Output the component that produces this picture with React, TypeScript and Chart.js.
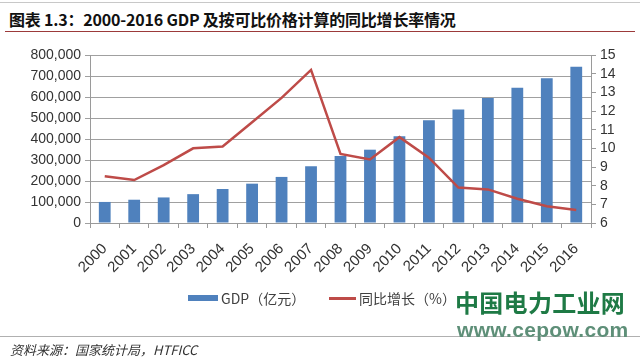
import React, { useEffect, useRef } from "react";
import { Chart, registerables } from "chart.js";

Chart.register(...registerables);

const years = ["2000","2001","2002","2003","2004","2005","2006","2007","2008","2009","2010","2011","2012","2013","2014","2015","2016"];
const gdp = [100280,110863,121717,137422,161840,187319,219439,270232,319516,349081,413030,489301,540367,595244,643974,689052,744127];
const growth = [8.5,8.3,9.1,10.0,10.1,11.4,12.7,14.2,9.7,9.4,10.6,9.5,7.9,7.8,7.3,6.9,6.7];
const leftTicks = [0,100000,200000,300000,400000,500000,600000,700000,800000];
const rightTicks = [6,7,8,9,10,11,12,13,14,15];
const seriesNames = ["GDP（亿元）", "同比增长（%）"];

const FONT = "'Liberation Sans', Arial, sans-serif";
const CJK = "'Noto Sans CJK SC', 'Liberation Sans', sans-serif";
const BLUE = "#4F81BD";
const RED = "#BE4B48";

export default function App() {
  const ref = useRef<HTMLCanvasElement | null>(null);
  useEffect(() => {
    const ctx = ref.current!.getContext("2d")!;
    const chart = new Chart(ctx, {
      type: "bar",
      data: {
        labels: years,
        datasets: [
          {
            type: "bar",
            label: seriesNames[0],
            data: gdp,
            backgroundColor: BLUE,
            borderWidth: 0,
            barPercentage: 0.4,
            categoryPercentage: 1,
            yAxisID: "y",
            order: 2,
          },
          {
            type: "line",
            label: seriesNames[1],
            data: growth,
            borderColor: RED,
            backgroundColor: RED,
            borderWidth: 2.5,
            pointRadius: 0,
            tension: 0,
            yAxisID: "y1",
            order: 1,
          },
        ],
      },
      options: {
        responsive: false,
        animation: false,
        layout: { padding: { top: 55, bottom: 77, left: 0, right: 0 } },
        plugins: {
          legend: { display: false },
          tooltip: { enabled: false },
        },
        scales: {
          x: {
            offset: true,
            grid: { drawOnChartArea: false, drawTicks: true, tickLength: 5, color: "#9A9A9A" },
            border: { color: "#9A9A9A" },
            ticks: { color: "#333", font: { family: FONT, size: 15 }, maxRotation: 45, minRotation: 45, padding: 12, autoSkip: false },
            afterFit: (s: any) => { s.height = 60; },
          },
          y: {
            position: "left",
            min: 0,
            max: 800000,
            afterBuildTicks: (s: any) => { s.ticks = leftTicks.map((v) => ({ value: v })); },
            grid: { color: "#A0A0A0", tickLength: 5 },
            border: { color: "#9A9A9A" },
            ticks: {
              color: "#333",
              autoSkip: false,
              font: { family: FONT, size: 14 },
              padding: 4,
              callback: (v: any) => Number(v).toLocaleString("en-US"),
            },
            afterFit: (s: any) => { s.width = 90; },
          },
          y1: {
            position: "right",
            min: 6,
            max: 15,
            afterBuildTicks: (s: any) => { s.ticks = rightTicks.map((v) => ({ value: v })); },
            grid: { drawOnChartArea: false, tickLength: 5, color: "#9A9A9A" },
            border: { color: "#9A9A9A" },
            ticks: { color: "#333", autoSkip: false, font: { family: FONT, size: 14 }, padding: 4 },
            afterFit: (s: any) => { s.width = 49; },
          },
        },
      },
    });
    return () => chart.destroy();
  }, []);

  return (
    <div style={{ position: "fixed", left: 0, top: 0, width: 640, height: 360, background: "#fff", overflow: "hidden" }}>
      <div style={{ position: "absolute", left: 0, top: 2, width: 640, height: 1, background: "#C8C8C8" }} />
      <div style={{ position: "absolute", left: 9, top: 7, fontFamily: CJK, fontWeight: 700, fontSize: 16, color: "#111", whiteSpace: "nowrap", letterSpacing: -0.2 }}>
        图表 1.3：2000-2016 GDP 及按可比价格计算的同比增长率情况
      </div>
      <div style={{ position: "absolute", left: 5, top: 31, width: 630, height: 1, background: "#9C3A3A" }} />
      <canvas ref={ref} width={640} height={360} style={{ position: "absolute", left: 0, top: 0 }} />
      <div style={{ position: "absolute", left: 188, top: 295, width: 30, height: 6, background: BLUE }} />
      <div style={{ position: "absolute", left: 221, top: 288, fontFamily: CJK, fontSize: 14, color: "#404040", whiteSpace: "nowrap", lineHeight: "20px" }}>
        {seriesNames[0]}
      </div>
      <div style={{ position: "absolute", left: 329, top: 297, width: 27, height: 3, background: RED }} />
      <div style={{ position: "absolute", left: 359, top: 288, fontFamily: CJK, fontSize: 14, color: "#404040", whiteSpace: "nowrap", lineHeight: "20px" }}>
        {seriesNames[1]}
      </div>
      <div style={{ position: "absolute", left: 455, top: 284, fontFamily: CJK, fontWeight: 700, fontSize: 24, color: "#1E7A45", whiteSpace: "nowrap", letterSpacing: 0.3 }}>
        中国电力工业网
      </div>
      <div style={{ position: "absolute", left: 0, top: 336, width: 640, height: 1, background: "#B0B0B0" }} />
      <div style={{ position: "absolute", left: 457, top: 318, fontFamily: FONT, fontWeight: 700, fontSize: 21, color: "#5E8F78", whiteSpace: "nowrap", letterSpacing: 0.3 }}>
        www.cepow.com
      </div>
      <div style={{ position: "absolute", left: 10, top: 340, fontFamily: CJK, fontStyle: "italic", fontSize: 13, color: "#333", whiteSpace: "nowrap" }}>
        资料来源：国家统计局，HTFICC
      </div>
    </div>
  );
}
